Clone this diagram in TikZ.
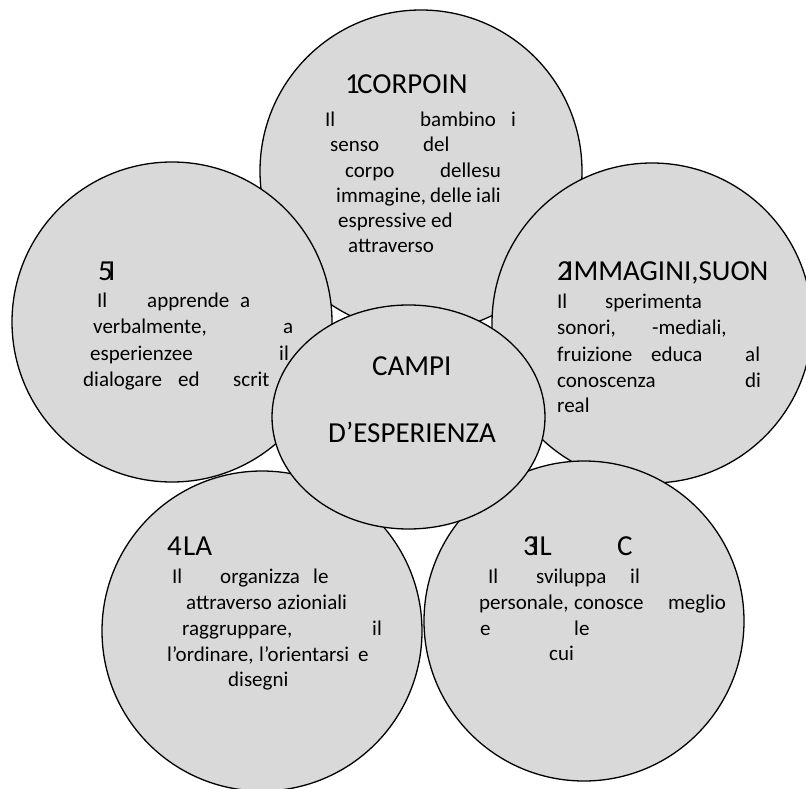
\documentclass[tikz,border=0pt]{standalone}
\usepackage{fontspec}
\setmainfont{Carlito}
\usetikzlibrary{shapes.geometric}
\definecolor{cfill}{HTML}{D9D9D9}
\newcounter{wc}
\newcommand\wrd[3]{\stepcounter{wc}\node[bodytxt] (w\arabic{wc}) at (#1,#2) {#3};}
\newcommand\ttl[3]{\stepcounter{wc}\node[headtxt] (w\arabic{wc}) at (#1,#2) {#3};}
\begin{document}
\begin{tikzpicture}[x=1pt,y=-1pt,
  circ/.style={circle,draw=black,line width=1.3pt,fill=cfill,inner sep=0pt,minimum size=320pt},
  bodytxt/.style={anchor=base west,inner sep=0pt,font=\fontsize{21}{25}\selectfont},
  headtxt/.style={anchor=base west,inner sep=0pt,font=\fontsize{29}{35}\selectfont}]
\useasboundingbox (0,0) rectangle (806,789);
\fill[white] (0,0) rectangle (806,789);
% circles
\node[circ,minimum size=322pt] (c1) at (421,171) {};
\node[circ] (c5) at (172,322) {};
\node[circ] (c2) at (652,323) {};
\node[circ] (c4) at (262,631) {};
\node[circ] (c3) at (584,621) {};
\node[ellipse,draw=black,line width=1.3pt,fill=cfill,inner sep=0pt,minimum width=273pt,minimum height=224pt] (cc) at (408.5,417) {};
% top circle
\ttl{345}{94}{1}\ttl{357}{94}{CORPOIN}
\wrd{325}{127}{Il}\wrd{420}{127}{bambino}\wrd{511}{127}{i}
\wrd{330}{152}{senso}\wrd{423}{152}{del}
\wrd{345}{177}{corpo}\wrd{440}{177}{dellesu}
\wrd{336}{202}{immagine,}\wrd{430}{202}{delle}\wrd{476}{202}{iali}
\wrd{338}{227}{espressive ed}
\wrd{348}{252}{attraverso}
% left circle
\ttl{98}{280}{5}\ttl{108}{280}{I}
\wrd{97}{307}{Il}\wrd{147}{307}{apprende}\wrd{240}{307}{a}
\wrd{93}{333}{verbalmente,}\wrd{283}{333}{a}
\wrd{90}{360}{esperienzee}\wrd{279}{360}{il}
\wrd{83}{386}{dialogare}\wrd{178}{386}{ed}\wrd{233}{386}{scrit}
% right circle
\ttl{557}{280}{2}\ttl{566}{280}{IMMAGINI,SUON}
\wrd{557}{308}{Il}\wrd{605}{308}{sperimenta}
\wrd{557}{334}{sonori,}\wrd{652}{334}{-mediali,}
\wrd{557}{361}{fruizione}\wrd{651}{361}{educa}\wrd{745}{361}{al}
\wrd{557}{387}{conoscenza}\wrd{745}{387}{di}
\wrd{557}{412}{real}
% bottom-left circle
\ttl{167}{555}{4}\ttl{183}{555}{LA}
\wrd{172}{583}{Il}\wrd{220}{583}{organizza}\wrd{313}{583}{le}
\wrd{186}{609}{attraverso}\wrd{277}{609}{azioniali}
\wrd{182}{635}{raggruppare,}\wrd{372}{635}{il}
\wrd{167}{661}{l’ordinare,}\wrd{259}{661}{l’orientarsi}\wrd{358}{661}{e}
\wrd{228}{686}{disegni}
% bottom-right circle
\ttl{523}{555}{3}\ttl{532}{555}{IL}\ttl{617}{555}{C}
\wrd{488}{583}{Il}\wrd{536}{583}{sviluppa}\wrd{630}{583}{il}
\wrd{479}{609}{personale,}\wrd{574}{609}{conosce}\wrd{668}{609}{meglio}
\wrd{480}{635}{e}\wrd{574}{635}{le}
\wrd{549}{660}{cui}
% centre
\ttl{372}{375}{CAMPI}
\ttl{328}{442}{D’ESPERIENZA}
\end{tikzpicture}
\end{document}
